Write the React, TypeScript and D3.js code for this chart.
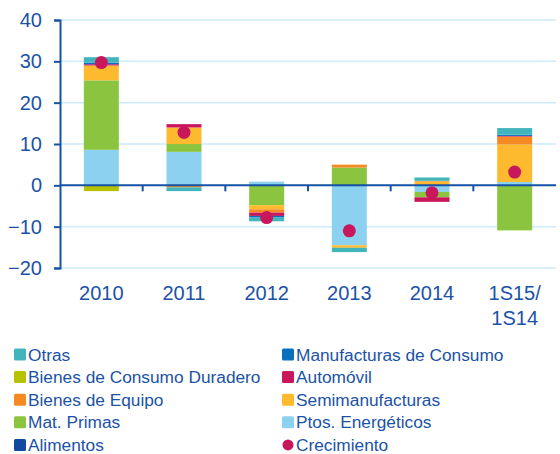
import React from 'react';
import * as d3 from 'd3';

const categories = ['2010', '2011', '2012', '2013', '2014', '1S15/\n1S14'];

const seriesNames = [
  'Alimentos',
  'Ptos. Energéticos',
  'Mat. Primas',
  'Semimanufacturas',
  'Bienes de Equipo',
  'Automóvil',
  'Bienes de Consumo Duradero',
  'Manufacturas de Consumo',
  'Otras',
];

const seriesColors = [
  '#114a9e',
  '#8dd1f0',
  '#8bc53f',
  '#fdba2f',
  '#f58a22',
  '#c8175d',
  '#b6c200',
  '#0a6fbf',
  '#41b4bc',
];

// one array per series, one value per category
const alimentos = [0, 0, 0, 0, 0, 0];
const ptosEnergeticos = [8.6, 8.1, 0.9, -14.5, -1.6, 0.8];
const matPrimas = [16.8, 1.9, -4.8, 4.3, -1.3, -10.9];
const semimanufacturas = [3.6, 4.0, -1.0, -0.6, 0.9, 9.1];
const bienesEquipo = [0, -0.5, -0.8, 0.7, 0.2, 1.9];
const automovil = [0.3, 0.8, -0.8, 0, -1.1, 0.15];
const bienesDuradero = [-1.4, 0, 0, 0, 0, 0];
const manufacturasConsumo = [0.4, 0, -0.4, 0, 0, 0.3];
const otras = [1.3, -0.9, -0.9, -1.05, 0.8, 1.6];
const crecimiento = [29.7, 12.8, -7.8, -11.0, -1.8, 3.2];

const yTicks = [-20, -10, 0, 10, 20, 30, 40];

const legendOrder = [
  'Otras', 'Manufacturas de Consumo',
  'Bienes de Consumo Duradero', 'Automóvil',
  'Bienes de Equipo', 'Semimanufacturas',
  'Mat. Primas', 'Ptos. Energéticos',
  'Alimentos', 'Crecimiento',
];

const FONT = '"Liberation Sans", Arial, sans-serif';
const TEXT = '#1b52a6';
const AXIS = '#1652a4';

export default function App() {
  const ref = React.useRef<SVGSVGElement>(null);

  React.useEffect(() => {
    if (!ref.current) return;
    const svg = d3.select(ref.current);
    svg.selectAll('*').remove();

    const allSeries = [alimentos, ptosEnergeticos, matPrimas, semimanufacturas, bienesEquipo,
      automovil, bienesDuradero, manufacturasConsumo, otras];
    const rows = categories.map((c, i) => {
      const r: any = { cat: c };
      seriesNames.forEach((s, k) => { r[s] = allSeries[k][i]; });
      return r;
    });

    const x = d3.scaleBand().domain(categories).range([60, 556]).paddingInner(0).paddingOuter(0);
    const y = d3.scaleLinear().domain([-20, 40]).range([268, 20]);
    const barW = 35;

    // gridlines
    svg.append('g')
      .selectAll('line')
      .data(yTicks.filter(t => t !== 0))
      .enter()
      .append('line')
      .attr('x1', 60).attr('x2', 556)
      .attr('y1', d => y(d)).attr('y2', d => y(d))
      .attr('stroke', '#cdebf8').attr('stroke-width', 1.5);

    const stack = d3.stack<any>().keys(seriesNames).offset(d3.stackOffsetDiverging);
    const layers = stack(rows);

    layers.forEach((layer, k) => {
      svg.append('g')
        .selectAll('rect')
        .data(layer.filter(d => d[1] - d[0] !== 0))
        .enter()
        .append('rect')
        .attr('x', d => (x(d.data.cat) as number) + x.bandwidth() / 2 - barW / 2)
        .attr('width', barW)
        .attr('y', d => y(Math.max(d[0], d[1])))
        .attr('height', d => Math.abs(y(d[0]) - y(d[1])))
        .attr('fill', seriesColors[k]);
    });

    // y axis
    const axisY = d3.axisLeft(y).tickValues(yTicks).tickSize(6).tickPadding(12);
    const gy = svg.append('g').attr('transform', 'translate(60,0)').call(axisY);
    gy.select('.domain').attr('stroke', AXIS).attr('stroke-width', 2);
    gy.selectAll('.tick line').attr('stroke', AXIS).attr('stroke-width', 2);
    gy.selectAll('.tick text')
      .attr('fill', TEXT).style('font-size', '20px').style('font-family', FONT);

    // zero line with category ticks
    svg.append('line')
      .attr('x1', 60).attr('x2', 556)
      .attr('y1', y(0)).attr('y2', y(0))
      .attr('stroke', AXIS).attr('stroke-width', 2);
    svg.append('g')
      .selectAll('line')
      .data(categories.slice(1))
      .enter()
      .append('line')
      .attr('x1', d => x(d) as number).attr('x2', d => x(d) as number)
      .attr('y1', y(0)).attr('y2', y(0) + 6)
      .attr('stroke', AXIS).attr('stroke-width', 2);

    // x labels
    const lab = svg.append('g');
    categories.forEach(c => {
      const t = lab.append('text')
        .attr('x', (x(c) as number) + x.bandwidth() / 2)
        .attr('y', 300)
        .attr('text-anchor', 'middle')
        .attr('fill', TEXT)
        .style('font-size', '20px')
        .style('font-family', FONT);
      c.split('\n').forEach((line, i) => {
        t.append('tspan')
          .attr('x', (x(c) as number) + x.bandwidth() / 2)
          .attr('dy', i === 0 ? 0 : 25)
          .text(line);
      });
    });

    // crecimiento dots
    svg.append('g')
      .selectAll('circle')
      .data(crecimiento)
      .enter()
      .append('circle')
      .attr('cx', (d, i) => (x(categories[i]) as number) + x.bandwidth() / 2)
      .attr('cy', d => y(d))
      .attr('r', 6.5)
      .attr('fill', '#c8175d');

    // legend
    const lg = svg.append('g');
    legendOrder.forEach((name, i) => {
      const col = i % 2;
      const row = Math.floor(i / 2);
      const lx = col === 0 ? 14 : 282;
      const ly = 354.5 + row * 22.6;
      if (name === 'Crecimiento') {
        lg.append('circle').attr('cx', lx + 6).attr('cy', ly).attr('r', 5.5).attr('fill', '#c8175d');
      } else {
        lg.append('rect')
          .attr('x', lx).attr('y', ly - 6).attr('width', 12).attr('height', 12)
          .attr('rx', 1.5)
          .attr('fill', seriesColors[seriesNames.indexOf(name)]);
      }
      lg.append('text')
        .attr('x', lx + 14)
        .attr('y', ly + 6)
        .attr('fill', TEXT)
        .style('font-size', '17.3px')
        .style('font-family', FONT)
        .text(name);
    });
  }, []);

  return (
    <svg ref={ref} width={560} height={454}
      style={{ position: 'absolute', left: 0, top: 0, background: '#fff' }} />
  );
}
